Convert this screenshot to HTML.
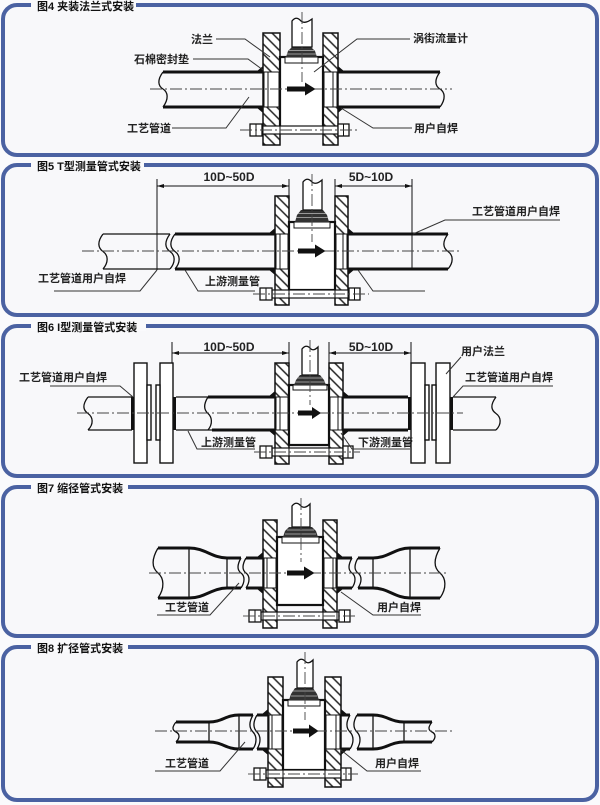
<!DOCTYPE html>
<html><head><meta charset="utf-8">
<style>
html,body{margin:0;padding:0;background:#fafafc;}
svg{display:block;}
text{font-family:"Liberation Sans","Noto Sans CJK SC",sans-serif;}
</style></head><body>
<svg width="600" height="805" viewBox="0 0 600 805" xmlns="http://www.w3.org/2000/svg">
<defs>
<pattern id="h" patternUnits="userSpaceOnUse" width="7" height="7" patternTransform="rotate(-45)">
<rect width="7" height="7" fill="#fff"/>
<line x1="1" y1="0" x2="1" y2="7" stroke="#222" stroke-width="1.5"/>
</pattern>
</defs>
<rect width="600" height="805" fill="#fafafc"/>

<!-- panels -->
<g fill="#f8f8fa" stroke="#4b62a2" stroke-width="4">
<rect x="3" y="5" width="594" height="150" rx="14"/>
<rect x="3" y="165" width="594" height="150" rx="14"/>
<rect x="3" y="326" width="594" height="150" rx="14"/>
<rect x="3" y="487" width="594" height="149" rx="14"/>
<rect x="3" y="647" width="594" height="153" rx="14"/>
</g>
<g fill="#fafafc">
<rect x="31" y="0" width="105" height="10"/>
<rect x="31" y="160" width="113" height="10"/>
<rect x="31" y="321" width="115" height="10"/>
<rect x="31" y="482" width="97" height="10"/>
<rect x="31" y="642" width="97" height="10"/>
</g>
<g font-size="11" font-weight="bold" fill="#111">
<text x="37" y="10">图4 夹装法兰式安装</text>
<text x="37" y="170">图5 T型测量管式安装</text>
<text x="37" y="331">图6 I型测量管式安装</text>
<text x="37" y="492">图7 缩径管式安装</text>
<text x="37" y="652">图8 扩径管式安装</text>
</g>

<!-- ================= PANEL 1 ================= -->
<g stroke="#111" fill="none">
<path d="M163,72 L263,72 M163,107 L263,107 M338,72 L440,72 M338,107 L440,107" stroke-width="3"/>
<path d="M163,72 C157,80 158,86 163,89 C168,92 169,99 163,107" stroke-width="1.3"/>
<path d="M440,72 C434,80 435,86 440,89 C445,92 446,99 440,107" stroke-width="1.3"/>
</g>
<rect x="263" y="33" width="17" height="112" fill="url(#h)" stroke="#111" stroke-width="1.5"/>
<rect x="323" y="33" width="15" height="112" fill="url(#h)" stroke="#111" stroke-width="1.5"/>
<rect x="264" y="72" width="15" height="35" fill="#fff" stroke="#111" stroke-width="1"/>
<rect x="324" y="72" width="13" height="35" fill="#fff" stroke="#111" stroke-width="1"/>
<path d="M268,72 V107 M333,72 V107" stroke="#111" stroke-width="1"/>
<path d="M256,72 L263,72 L263,66 Z M256,107 L263,107 L263,113 Z M345,72 L338,72 L338,66 Z M345,107 L338,107 L338,113 Z" fill="#111"/>
<rect x="280" y="57" width="43" height="70" fill="#fff" stroke="#111" stroke-width="2.2"/>
<rect x="285" y="57" width="33" height="6" fill="#fff" stroke="#111" stroke-width="1"/>
<polygon points="286,57 288,51 292,47 311,47 315,51 317,57" fill="#333"/>
<path d="M289,50.5 H314 M287,54 H316" stroke="#bbb" stroke-width="0.8"/>
<path d="M292,47 L292,21 Q296,16 300,20 Q304,25 312,19 L312,47 Z" fill="#fff" stroke="#111" stroke-width="1.3"/>
<rect x="262" y="126" width="76" height="8" fill="#fff" stroke="#111" stroke-width="1.2"/>
<path d="M263,126 V134 M280,126 V134 M323,126 V134 M338,126 V134" stroke="#111" stroke-width="1"/>
<rect x="250" y="124" width="12" height="12" fill="#fff" stroke="#111" stroke-width="1.3"/>
<rect x="338" y="124" width="11" height="12" fill="#fff" stroke="#111" stroke-width="1.3"/>
<path d="M256,124 V136 M343.5,124 V136" stroke="#111" stroke-width="1"/>
<g stroke="#444" stroke-width="0.9" stroke-dasharray="12 3 2 3" fill="none">
<path d="M150,89 H452"/>
<path d="M302,12 V82"/>
<path d="M240,130 H360"/>
</g>
<path d="M287,86.5 H305 V82.5 L315.5,89 L305,95.5 V91.5 H287 Z" fill="#111"/>
<g stroke="#333" stroke-width="1" fill="none">
<path d="M216,39 L245,39 L270,57"/>
<path d="M193,59 L248,59 L263,70"/>
<path d="M410,39 L357,39 L314,72"/>
<path d="M172,128 L226,128 L249,97"/>
<path d="M412,128 L373,128 L341,108"/>
</g>
<g font-size="11" font-weight="bold" fill="#222">
<text x="191" y="43">法兰</text>
<text x="134" y="63">石棉密封垫</text>
<text x="413" y="42">涡街流量计</text>
<text x="127" y="132">工艺管道</text>
<text x="414" y="132">用户自焊</text>
</g>

<!-- ================= PANEL 2 ================= -->
<g stroke="#111" fill="none">
<path d="M103,234 H170 M103,269 H170" stroke-width="1.3"/>
<path d="M103,234 C97,242 98,248 103,251.5 C108,255 109,262 103,269" stroke-width="1.3"/>
<path d="M170,234 C164,242 165,248 170,251.5 C175,255 176,262 170,269" stroke-width="1.3"/>
<path d="M175,234 H275 M175,269 H275 M348,234 H448 M348,269 H448" stroke-width="3"/>
<path d="M175,234 C169,242 170,248 175,251.5 C180,255 181,262 175,269" stroke-width="1.3"/>
<path d="M448,234 C442,242 443,248 448,251.5 C453,255 454,262 448,269" stroke-width="1.3"/>
<path d="M412,179 V269 M157,179 V270 M289,179 V196 M335,179 V196" stroke-width="1"/>
<path d="M157,186 H289 M335,186 H412" stroke-width="0.9"/>
</g>
<path d="M157,186 L164,184 L164,188 Z M289,186 L282,184 L282,188 Z M335,186 L342,184 L342,188 Z M412,186 L405,184 L405,188 Z" fill="#111"/>
<rect x="275" y="196" width="14" height="109" fill="url(#h)" stroke="#111" stroke-width="1.5"/>
<rect x="335" y="196" width="13" height="109" fill="url(#h)" stroke="#111" stroke-width="1.5"/>
<rect x="276" y="234" width="12" height="35" fill="#fff" stroke="#111" stroke-width="1"/>
<rect x="336" y="234" width="11" height="35" fill="#fff" stroke="#111" stroke-width="1"/>
<path d="M280,234 V269 M343,234 V269" stroke="#111" stroke-width="1"/>
<path d="M268,234 L275,234 L275,228 Z M268,269 L275,269 L275,275 Z M355,234 L348,234 L348,228 Z M355,269 L348,269 L348,275 Z" fill="#111"/>
<rect x="289" y="222" width="46" height="68" fill="#fff" stroke="#111" stroke-width="2.2"/>
<rect x="294" y="222" width="36" height="6" fill="#fff" stroke="#111" stroke-width="1"/>
<polygon points="295,222 297,215 301,210 323,210 327,215 329,222" fill="#333"/>
<path d="M298,213.5 H326 M296,217.5 H328" stroke="#bbb" stroke-width="0.8"/>
<path d="M303,210 L303,182 Q307,177 311,181 Q315,186 322,180 L322,210 Z" fill="#fff" stroke="#111" stroke-width="1.3"/>
<rect x="272" y="290" width="77" height="8" fill="#fff" stroke="#111" stroke-width="1.2"/>
<path d="M275,290 V298 M289,290 V298 M335,290 V298 M348,290 V298" stroke="#111" stroke-width="1"/>
<rect x="260" y="288" width="12" height="12" fill="#fff" stroke="#111" stroke-width="1.3"/>
<rect x="349" y="288" width="11" height="12" fill="#fff" stroke="#111" stroke-width="1.3"/>
<path d="M266,288 V300 M354.5,288 V300" stroke="#111" stroke-width="1"/>
<g stroke="#444" stroke-width="0.9" stroke-dasharray="12 3 2 3" fill="none">
<path d="M82,251 H459"/>
<path d="M312,174 V242"/>
<path d="M253,294 H369"/>
</g>
<path d="M298,248.5 H315 V244.5 L325.5,251 L315,257.5 V253.5 H298 Z" fill="#111"/>
<g stroke="#333" stroke-width="1" fill="none">
<path d="M54,291 H140 L157,270"/>
<path d="M185,270 L198,291 H255"/>
<path d="M358,270 L373,291 H425"/>
<path d="M560,220 H445 L413,234"/>
</g>
<g font-size="12" font-weight="bold" fill="#222" text-anchor="middle">
<text x="229" y="181">10D~50D</text>
<text x="371" y="181">5D~10D</text>
</g>
<g font-size="11" font-weight="bold" fill="#222">
<text x="38" y="282">工艺管道用户自焊</text>
<text x="205" y="285">上游测量管</text>
<text x="472" y="215">工艺管道用户自焊</text>
</g>

<!-- ================= PANEL 3 ================= -->
<g stroke="#111" fill="none">
<path d="M88,397 H132 M88,430 H132 M453,397 H496 M453,430 H496 M176,397 H275 M176,430 H275" stroke-width="1.3"/>
<path d="M88,397 C82,405 83,410 88,413.5 C93,417 94,424 88,430" stroke-width="1.3"/>
<path d="M496,397 C490,405 491,410 496,413.5 C501,417 502,424 496,430" stroke-width="1.3"/>
<path d="M208,397 H275 M212,430 H275 M343,397 H408 M343,430 H408" stroke-width="3"/>
<path d="M208,397 C203,405 204,410 208,413.5 C212,417 213,424 208,430" stroke-width="1.3"/>
<path d="M172,342 V363 M289,342 V363 M329,342 V363 M411,342 V363" stroke-width="1"/>
<path d="M172,353 H289 M329,353 H411" stroke-width="0.9"/>
</g>
<path d="M172,353 L179,351 L179,355 Z M289,353 L282,351 L282,355 Z M329,353 L336,351 L336,355 Z M411,353 L404,351 L404,355 Z" fill="#111"/>
<g fill="#fff" stroke="#111" stroke-width="1.4">
<rect x="134" y="363" width="13" height="100"/>
<rect x="160" y="363" width="13" height="100"/>
<rect x="147" y="385" width="4" height="55"/>
<rect x="156" y="385" width="4" height="55"/>
<rect x="411" y="363" width="14" height="100"/>
<rect x="436" y="363" width="14" height="100"/>
<rect x="425" y="385" width="4" height="55"/>
<rect x="432" y="385" width="4" height="55"/>
</g>
<g fill="#111">
<rect x="131" y="397" width="3" height="33"/>
<rect x="173" y="397" width="3" height="33"/>
<rect x="408" y="397" width="3" height="33"/>
<rect x="450" y="397" width="3" height="33"/>
</g>
<rect x="275" y="363" width="14" height="101" fill="url(#h)" stroke="#111" stroke-width="1.5"/>
<rect x="329" y="363" width="14" height="101" fill="url(#h)" stroke="#111" stroke-width="1.5"/>
<rect x="276" y="397" width="12" height="33" fill="#fff" stroke="#111" stroke-width="1"/>
<rect x="330" y="397" width="12" height="33" fill="#fff" stroke="#111" stroke-width="1"/>
<path d="M280,397 V430 M338,397 V430" stroke="#111" stroke-width="1"/>
<path d="M268,397 L275,397 L275,391 Z M268,430 L275,430 L275,436 Z M350,397 L343,397 L343,391 Z M350,430 L343,430 L343,436 Z" fill="#111"/>
<rect x="289" y="385" width="40" height="60" fill="#fff" stroke="#111" stroke-width="2.2"/>
<rect x="293" y="385" width="34" height="5" fill="#fff" stroke="#111" stroke-width="1"/>
<polygon points="294,385 296,380 300,375 320,375 324,380 326,385" fill="#333"/>
<path d="M297,378 H323 M295,382 H325" stroke="#bbb" stroke-width="0.8"/>
<path d="M302,375 L302,349 Q306,344 310,348 Q313,352 318,347 L318,375 Z" fill="#fff" stroke="#111" stroke-width="1.3"/>
<rect x="272" y="448" width="71" height="8" fill="#fff" stroke="#111" stroke-width="1.2"/>
<path d="M275,448 V456 M289,448 V456 M329,448 V456" stroke="#111" stroke-width="1"/>
<rect x="260" y="446" width="12" height="12" fill="#fff" stroke="#111" stroke-width="1.3"/>
<rect x="343" y="446" width="10" height="12" fill="#fff" stroke="#111" stroke-width="1.3"/>
<path d="M266,446 V458 M348,446 V458" stroke="#111" stroke-width="1"/>
<g stroke="#444" stroke-width="0.9" stroke-dasharray="12 3 2 3" fill="none">
<path d="M77,413 H463"/>
<path d="M310,340 V405"/>
<path d="M254,452 H360"/>
</g>
<path d="M298,410.5 H312 V407 L321,413 L312,419 V415.5 H298 Z" fill="#111"/>
<g stroke="#333" stroke-width="1" fill="none">
<path d="M50,386 H120 L133,397"/>
<path d="M461,357 L446,374"/>
<path d="M553,386 H463 L453,397"/>
<path d="M188,431 L197,449 H255"/>
<path d="M341,433 L352,449 H410"/>
</g>
<g font-size="12" font-weight="bold" fill="#222" text-anchor="middle">
<text x="229" y="351">10D~50D</text>
<text x="371" y="351">5D~10D</text>
</g>
<g font-size="11" font-weight="bold" fill="#222">
<text x="19" y="381">工艺管道用户自焊</text>
<text x="461" y="355">用户法兰</text>
<text x="465" y="381">工艺管道用户自焊</text>
<text x="201" y="446">上游测量管</text>
<text x="358" y="446">下游测量管</text>
</g>

<!-- ================= PANEL 4 ================= -->
<g stroke="#111" fill="none">
<path d="M158,548 H189 M158,598 H189 M189,548 C205,548 212,558 227,558 M189,598 C205,598 212,588 227,588 M227,558 H241 M227,588 H241 M246,558 H263 M246,588 H263" stroke-width="3"/>
<path d="M337,558 H352 M337,588 H352 M358,558 H373 M358,588 H373 M373,558 C388,558 395,548 410,548 M373,588 C388,588 395,598 410,598 M410,548 H440 M410,598 H440" stroke-width="3"/>
<path d="M158,548 C151,560 152,568 158,573 C164,578 165,588 158,598" stroke-width="1.3"/>
<path d="M440,548 C433,560 434,568 440,573 C446,578 447,588 440,598" stroke-width="1.3"/>
<path d="M241,558 C237,565 237,570 241,573 C245,576 245,582 241,588" stroke-width="1.3"/>
<path d="M246,558 C242,565 242,570 246,573 C250,576 250,582 246,588" stroke-width="1.3"/>
<path d="M352,558 C348,565 348,570 352,573 C356,576 356,582 352,588" stroke-width="1.3"/>
<path d="M358,558 C354,565 354,570 358,573 C362,576 362,582 358,588" stroke-width="1.3"/>
<path d="M189,548 V598 M227,558 V588 M373,558 V588 M410,548 V598" stroke-width="1.3"/>
</g>
<rect x="263" y="520" width="14" height="108" fill="url(#h)" stroke="#111" stroke-width="1.5"/>
<rect x="323" y="520" width="14" height="108" fill="url(#h)" stroke="#111" stroke-width="1.5"/>
<rect x="264" y="558" width="12" height="30" fill="#fff" stroke="#111" stroke-width="1"/>
<rect x="324" y="558" width="12" height="30" fill="#fff" stroke="#111" stroke-width="1"/>
<path d="M267,558 V588 M333,558 V588" stroke="#111" stroke-width="1"/>
<path d="M256,558 L263,558 L263,552 Z M256,588 L263,588 L263,594 Z M344,558 L337,558 L337,552 Z M344,588 L337,588 L337,594 Z" fill="#111"/>
<rect x="277" y="537" width="46" height="68" fill="#fff" stroke="#111" stroke-width="2.2"/>
<rect x="282" y="537" width="37" height="6" fill="#fff" stroke="#111" stroke-width="1"/>
<polygon points="283,537 285,531 289,527 312,527 316,531 318,537" fill="#333"/>
<path d="M287,530 H314 M285,534 H316" stroke="#bbb" stroke-width="0.8"/>
<path d="M292,527 L292,506 Q296,501 300,505 Q304,510 310,504 L310,527 Z" fill="#fff" stroke="#111" stroke-width="1.3"/>
<rect x="261" y="612" width="78" height="8" fill="#fff" stroke="#111" stroke-width="1.2"/>
<path d="M263,612 V620 M277,612 V620 M323,612 V620 M337,612 V620" stroke="#111" stroke-width="1"/>
<rect x="249" y="610" width="12" height="12" fill="#fff" stroke="#111" stroke-width="1.3"/>
<rect x="339" y="610" width="11" height="12" fill="#fff" stroke="#111" stroke-width="1.3"/>
<path d="M255,610 V622 M344.5,610 V622" stroke="#111" stroke-width="1"/>
<g stroke="#444" stroke-width="0.9" stroke-dasharray="12 3 2 3" fill="none">
<path d="M149,573 H448"/>
<path d="M301,498 V562"/>
<path d="M243,616 H358"/>
</g>
<path d="M287,570.5 H304 V566.5 L314.5,573 L304,579.5 V575.5 H287 Z" fill="#111"/>
<g stroke="#333" stroke-width="1" fill="none">
<path d="M157,615 H210 L239,583"/>
<path d="M421,615 H373 L341,592"/>
</g>
<g font-size="11" font-weight="bold" fill="#222">
<text x="165" y="611">工艺管道</text>
<text x="377" y="611">用户自焊</text>
</g>

<!-- ================= PANEL 5 ================= -->
<g stroke="#111" fill="none">
<path d="M176,722 H209 M176,742 H209 M209,722 C222,722 226,715 239,715 M209,742 C222,742 226,749 239,749 M239,715 H253 M239,749 H253 M257,715 H268 M257,749 H268" stroke-width="3"/>
<path d="M341,715 H350 M341,749 H350 M357,715 H373 M357,749 H373 M373,715 C386,715 391,722 404,722 M373,749 C386,749 391,742 404,742 M404,722 H432 M404,742 H432" stroke-width="3"/>
<path d="M176,722 C172,727 172,730 176,732 C180,734 180,738 176,742" stroke-width="1.3"/>
<path d="M432,722 C428,727 428,730 432,732 C436,734 436,738 432,742" stroke-width="1.3"/>
<path d="M253,715 C249,722 249,728 253,732 C257,736 257,743 253,749" stroke-width="1.3"/>
<path d="M257,715 C253,722 253,728 257,732 C261,736 261,743 257,749" stroke-width="1.3"/>
<path d="M350,715 C346,722 346,728 350,732 C354,736 354,743 350,749" stroke-width="1.3"/>
<path d="M357,715 C353,722 353,728 357,732 C361,736 361,743 357,749" stroke-width="1.3"/>
<path d="M209,722 V742 M239,715 V749 M373,715 V749 M404,722 V742" stroke-width="1.3"/>
</g>
<rect x="268" y="677" width="15" height="110" fill="url(#h)" stroke="#111" stroke-width="1.5"/>
<rect x="325" y="677" width="16" height="110" fill="url(#h)" stroke="#111" stroke-width="1.5"/>
<rect x="269" y="715" width="13" height="34" fill="#fff" stroke="#111" stroke-width="1"/>
<rect x="326" y="715" width="14" height="34" fill="#fff" stroke="#111" stroke-width="1"/>
<path d="M272,715 V749 M336,715 V749" stroke="#111" stroke-width="1"/>
<path d="M261,715 L268,715 L268,709 Z M261,749 L268,749 L268,755 Z M348,715 L341,715 L341,709 Z M348,749 L341,749 L341,755 Z" fill="#111"/>
<rect x="283" y="700" width="42" height="70" fill="#fff" stroke="#111" stroke-width="2.2"/>
<rect x="288" y="700" width="32" height="6" fill="#fff" stroke="#111" stroke-width="1"/>
<polygon points="289,700 291,694 295,688 313,688 317,694 319,700" fill="#333"/>
<path d="M293,691 H315 M291,696 H317" stroke="#bbb" stroke-width="0.8"/>
<path d="M297,688 L297,662 Q301,657 305,661 Q308,665 313,660 L313,688 Z" fill="#fff" stroke="#111" stroke-width="1.3"/>
<rect x="266" y="770" width="75" height="8" fill="#fff" stroke="#111" stroke-width="1.2"/>
<path d="M268,770 V778 M283,770 V778 M325,770 V778" stroke="#111" stroke-width="1"/>
<rect x="254" y="768" width="12" height="12" fill="#fff" stroke="#111" stroke-width="1.3"/>
<rect x="341" y="768" width="10" height="12" fill="#fff" stroke="#111" stroke-width="1.3"/>
<path d="M260,768 V780 M346,768 V780" stroke="#111" stroke-width="1"/>
<g stroke="#444" stroke-width="0.9" stroke-dasharray="12 3 2 3" fill="none">
<path d="M155,731 H452"/>
<path d="M305,652 V720"/>
<path d="M248,774 H358"/>
</g>
<path d="M293,728.5 H309 V724.5 L318.5,731 L309,737.5 V733.5 H293 Z" fill="#111"/>
<g stroke="#333" stroke-width="1" fill="none">
<path d="M155,771 H220 L245,742"/>
<path d="M421,771 H367 L341,750"/>
</g>
<g font-size="11" font-weight="bold" fill="#222">
<text x="165" y="767">工艺管道</text>
<text x="375" y="767">用户自焊</text>
</g>
</svg>
</body></html>
